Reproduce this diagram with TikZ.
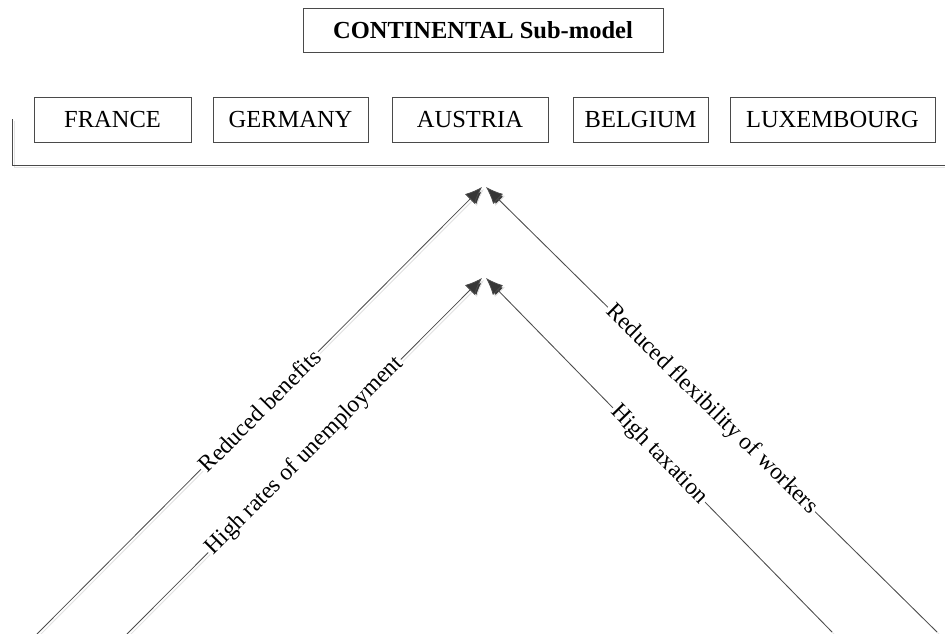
\documentclass[tikz,border=0pt]{standalone}
\usepackage{fontspec}
\setmainfont{Liberation Serif}
\usetikzlibrary{arrows.meta}
\definecolor{linegray}{HTML}{4A4A4A}
\definecolor{tipgray}{HTML}{363636}
\definecolor{shadowgray}{HTML}{E4E4E4}
\begin{document}
\begin{tikzpicture}[x=1pt,y=-1pt,
  countrybox/.style={draw=linegray, line width=0.8pt, minimum height=45pt,
    inner sep=0pt, font=\fontsize{24.5}{29}\selectfont},
  titlebox/.style={draw=linegray, line width=0.8pt, minimum width=360pt,
    minimum height=44pt, inner sep=0pt, font=\fontsize{24.5}{29}\selectfont\bfseries},
  shadowed/.style={preaction={draw=shadowgray, line width=1pt,
    transform canvas={xshift=2pt,yshift=-2pt}}},
  link/.style={draw=linegray, line width=0.8pt, shadowed,
    -{Latex[length=17pt,width=14pt,fill=tipgray]}},
  linklabel/.style={midway, sloped, fill=white, inner sep=1.5pt,
    font=\fontsize{23.5}{28}\selectfont}]
\useasboundingbox (0,0) rectangle (945,634);

% heading
\node[titlebox] (title) at (483,30) {CONTINENTAL Sub-model};

% member countries
\node[countrybox, minimum width=157pt] (france) at (112.5,119.5) {FRANCE};
\node[countrybox, minimum width=155pt] (germany) at (290.5,119.5) {GERMANY};
\node[countrybox, minimum width=156pt] (austria) at (470,119.5) {AUSTRIA};
\node[countrybox, minimum width=135pt] (belgium) at (640.5,119.5) {BELGIUM};
\node[countrybox, minimum width=205pt] (luxembourg) at (832.5,119.5) {LUXEMBOURG};

% bracket grouping the countries
\coordinate (brTop) at (12,119);
\coordinate (brEnd) at (945,165);
\draw[draw=linegray, line width=0.8pt, shadowed] (brTop) |- (brEnd);

% arrow tips under the group
\coordinate (outerL) at (482,187);
\coordinate (outerR) at (486,187);
\coordinate (innerL) at (482,278);
\coordinate (innerR) at (486,278);

% arrow tails at the bottom edge
\coordinate (s1) at (37,634);
\coordinate (s2) at (127,634);
\coordinate (s3) at (832,632);
\coordinate (s4) at (937,632);

\draw[link] (s1) -- (outerL) node[linklabel] (lb1) {Reduced benefits};
\draw[link] (s2) -- (innerL) node[linklabel] (lb2) {High rates of unemployment};
\draw[link] (s3) -- (innerR) node[linklabel] (lb3) {High taxation};
\draw[link] (s4) -- (outerR) node[linklabel] (lb4) {Reduced flexibility of workers};
\end{tikzpicture}
\end{document}
